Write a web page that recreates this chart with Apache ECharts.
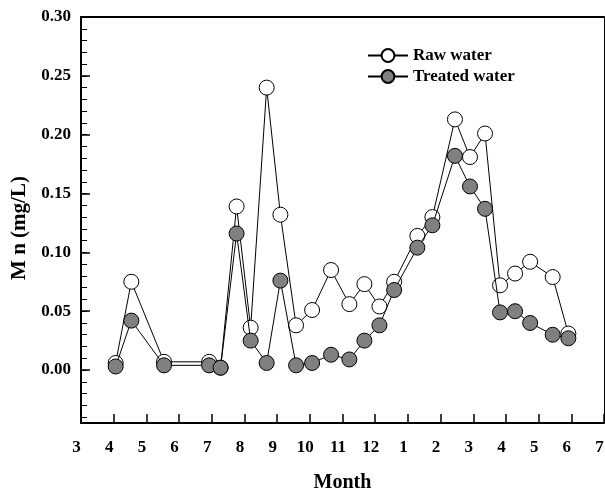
<!DOCTYPE html>
<html>
<head>
<meta charset="utf-8">
<script src="https://cdn.jsdelivr.net/npm/echarts@6/dist/echarts.min.js"></script>
<style>html,body{margin:0;padding:0;background:#fff}#c{width:605px;height:491px}</style>
</head>
<body>
<div id="c"></div>
<script>
// x positions in month index (3 = March of first year ... 19 = July of next year)
const monthPos = [4.06, 4.54, 5.54, 6.92, 7.27, 7.76, 8.19, 8.68, 9.10, 9.58, 10.07, 10.65, 11.21, 11.67, 12.13, 12.58, 13.29, 13.75, 14.44, 14.90, 15.36, 15.82, 16.28, 16.74, 17.43, 17.91];
const rawWater = [0.006, 0.075, 0.007, 0.007, 0.002, 0.139, 0.036, 0.240, 0.132, 0.038, 0.051, 0.085, 0.056, 0.073, 0.054, 0.075, 0.114, 0.130, 0.213, 0.181, 0.201, 0.072, 0.082, 0.092, 0.079, 0.031];
const treatedWater = [0.003, 0.042, 0.004, 0.004, 0.002, 0.116, 0.025, 0.006, 0.076, 0.004, 0.006, 0.013, 0.009, 0.025, 0.038, 0.068, 0.104, 0.123, 0.182, 0.156, 0.137, 0.049, 0.050, 0.040, 0.030, 0.027];
const monthLabels = ['3','4','5','6','7','8','9','10','11','12','1','2','3','4','5','6','7'];
const yLabelValues = [0, 0.05, 0.10, 0.15, 0.20, 0.25, 0.30];
const yMin = -0.045, yMax = 0.30;

const minorVals = [];
for (let i = -4; i <= 30; i++) minorVals.push(+(i * 0.01).toFixed(2));

const font = 'Liberation Serif, Times New Roman, serif';
const chart = echarts.init(document.getElementById('c'), null, {renderer: 'canvas'});
const pair = (xs, ys) => xs.map((x, i) => [x, ys[i]]);

chart.setOption({
  animation: false,
  backgroundColor: '#fff',
  grid: {left: 81, right: 1, top: 17, bottom: 68, containLabel: false, outerBoundsMode: 'none'},
  legend: {
    left: 362, top: 42, orient: 'vertical',
    itemWidth: 40, itemHeight: 16, itemGap: 4,
    textStyle: {fontFamily: font, fontWeight: 'bold', fontSize: 17, color: '#000'},
    data: ['Raw water', 'Treated water']
  },
  xAxis: [{
    type: 'value', min: 3, max: 19, interval: 1,
    name: 'Month', nameLocation: 'middle', nameGap: 50,
    nameTextStyle: {fontFamily: font, fontWeight: 'bold', fontSize: 20, color: '#000'},
    axisLine: {show: true, onZero: false, lineStyle: {color: '#000', width: 2}},
    axisTick: {show: true, inside: true, length: 9, lineStyle: {color: '#000', width: 1.5}},
    axisLabel: {
      margin: 16, fontFamily: font, fontWeight: 'bold', fontSize: 17, color: '#000',
      padding: [0, 9, 0, 0],
      formatter: v => monthLabels[Math.round(v - 3)] || ''
    },
    splitLine: {show: false}
  }, {
    type: 'value', min: 3, max: 19, position: 'top',
    axisLine: {show: true, onZero: false, lineStyle: {color: '#000', width: 2}},
    axisTick: {show: false}, axisLabel: {show: false}, splitLine: {show: false}
  }],
  yAxis: [{
    type: 'value', min: yMin, max: yMax, position: 'left',
    name: 'M n (mg/L)', nameLocation: 'middle', nameGap: 50, nameRotate: 90,
    nameTextStyle: {fontFamily: font, fontWeight: 'bold', fontSize: 21, color: '#000', padding: [0, 16, 0, 0]},
    axisLine: {show: true, onZero: false, lineStyle: {color: '#000', width: 2}},
    axisTick: {show: true, inside: true, length: 9, lineStyle: {color: '#000', width: 1.5}, customValues: yLabelValues},
    axisLabel: {
      margin: 10, fontFamily: font, fontWeight: 'bold', fontSize: 17, color: '#000',
      customValues: yLabelValues,
      formatter: v => v.toFixed(2)
    },
    splitLine: {show: false}
  }, {
    type: 'value', min: yMin, max: yMax, position: 'left',
    axisLine: {show: false},
    axisTick: {show: true, inside: true, length: 6, lineStyle: {color: '#000', width: 1}, customValues: minorVals},
    axisLabel: {show: false}, splitLine: {show: false}
  }, {
    type: 'value', min: yMin, max: yMax, position: 'right',
    axisLine: {show: true, onZero: false, lineStyle: {color: '#000', width: 1}},
    axisTick: {show: false}, axisLabel: {show: false}, splitLine: {show: false}
  }],
  series: [{
    name: 'Raw water', type: 'line', xAxisIndex: 0, yAxisIndex: 0,
    data: pair(monthPos, rawWater),
    symbol: 'circle', symbolSize: 15,
    itemStyle: {color: '#fff', borderColor: '#000', borderWidth: 1},
    lineStyle: {color: '#000', width: 1},
    z: 2
  }, {
    name: 'Treated water', type: 'line', xAxisIndex: 0, yAxisIndex: 0,
    data: pair(monthPos, treatedWater),
    symbol: 'circle', symbolSize: 15,
    itemStyle: {color: '#808080', borderColor: '#000', borderWidth: 1},
    lineStyle: {color: '#000', width: 1},
    z: 3
  }]
});
</script>
</body>
</html>
